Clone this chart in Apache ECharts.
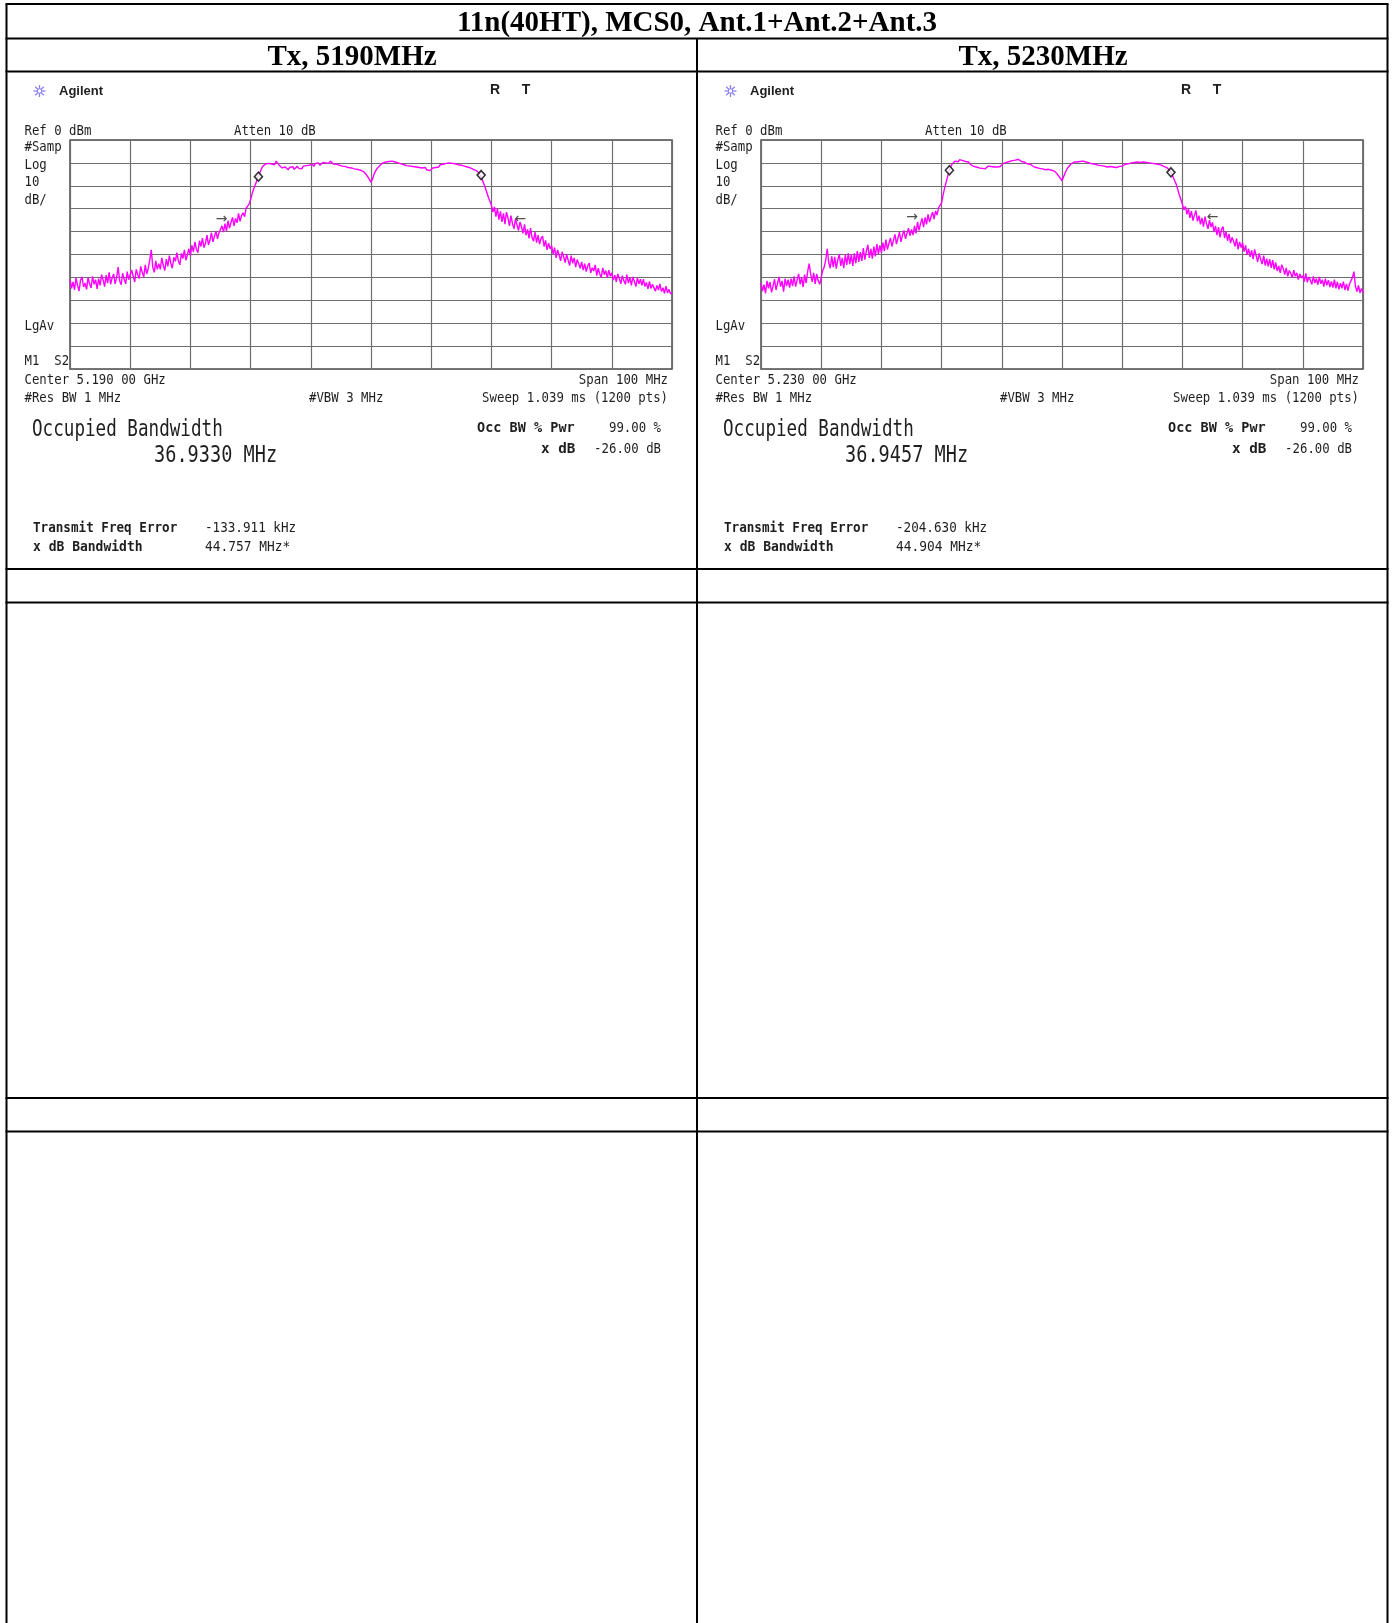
<!DOCTYPE html>
<html>
<head>
<meta charset="utf-8">
<script src="https://cdn.jsdelivr.net/npm/echarts@6/dist/echarts.min.js"></script>
<style>
  html, body { margin: 0; padding: 0; background: #ffffff; }
  #chart { width: 1394px; height: 1623px; }
</style>
</head>
<body>
<div id="chart"></div>
<script>
// ---- Report header ----
const reportTitle = '11n(40HT), MCS0, Ant.1+Ant.2+Ant.3';
const panelTitles = ['Tx, 5190MHz', 'Tx, 5230MHz'];

// ---- Analyzer readouts per channel ----
const centerFreqLabels = ['Center 5.190 00 GHz', 'Center 5.230 00 GHz'];
const occupiedBwLabels = ['36.9330 MHz', '36.9457 MHz'];
const freqErrorLabels = ['-133.911 kHz', '-204.630 kHz'];
const xdbBwLabels = ['44.757 MHz*', '44.904 MHz*'];

// ---- Axis ticks: offset from center (MHz) and level (dBm) ----
const freqTicksMHz = [-50, -40, -30, -20, -10, 0, 10, 20, 30, 40, 50];
const levelTicksDbm = [-100, -90, -80, -70, -60, -50, -40, -30, -20, -10, 0];

// Trace samples, every 0.25 MHz from -50 MHz to +50 MHz (dBm); one row = 5 MHz
const sweepStartMHz = -50;
const sweepStepMHz = 0.25;

const trace5190 = [
  -61.0, -64.8, -62.0, -65.5, -60.2, -63.5, -66.0, -61.2, -59.8, -64.2, -62.5, -65.2, -60.0, -62.8, -64.6, -59.5, -63.0, -61.0, -65.0, -60.5,
  -63.5, -58.8, -61.2, -64.0, -59.0, -62.5, -57.8, -63.0, -60.2, -58.5, -62.8, -60.0, -55.5, -61.5, -63.2, -58.2, -60.8, -62.8, -57.5, -61.0,
  -61.0, -56.8, -59.5, -62.0, -56.5, -58.8, -60.5, -55.2, -57.8, -59.8, -54.5, -58.5, -56.0, -52.5, -48.0, -55.5, -57.8, -52.8, -56.5, -54.0,
  -56.5, -51.5, -54.8, -57.0, -52.0, -55.2, -50.5, -53.8, -56.0, -51.2, -53.0, -49.2, -52.8, -54.5, -49.5, -51.8, -48.0, -52.5, -50.2, -47.5,
  -50.5, -46.0, -48.8, -44.5, -47.8, -49.2, -44.0, -46.5, -42.8, -47.0, -45.2, -41.5, -45.8, -43.8, -40.5, -44.5, -42.0, -39.8, -43.2, -40.5,
  -41.0, -37.5, -40.2, -36.5, -39.8, -35.2, -38.5, -36.0, -33.8, -37.5, -34.2, -36.2, -32.0, -35.5, -33.0, -31.8, -33.5, -29.8, -30.5, -28.0,
  -26.0, -23.5, -21.5, -19.8, -18.0, -16.2, -14.5, -13.0, -11.5, -10.8, -10.5, -9.8, -10.2, -9.5, -10.5, -11.2, -10.8, -9.2, -10.0, -11.0,
  -11.5, -12.2, -12.8, -11.8, -12.5, -13.0, -12.0, -12.6, -11.6, -12.8, -12.2, -11.5, -12.4, -11.8, -12.6, -11.4, -12.0, -11.2, -11.8, -11.0,
  -11.2, -10.5, -11.5, -10.2, -10.8, -10.0, -11.0, -10.4, -9.8, -10.6, -10.0, -9.4, -10.2, -9.2, -10.0, -10.5, -9.8, -10.6, -10.2, -11.0,
  -10.6, -11.4, -10.8, -11.6, -11.0, -12.0, -11.4, -12.2, -11.8, -12.6, -12.0, -12.8, -12.4, -13.2, -13.0, -13.8, -14.5, -15.2, -16.0, -17.2,
  -18.5, -17.0, -15.0, -13.6, -12.5, -11.8, -11.0, -10.6, -10.0, -10.4, -9.6, -10.2, -9.4, -9.8, -9.2, -10.0, -9.6, -10.4, -10.0, -10.8,
  -10.4, -11.2, -10.8, -11.6, -11.2, -12.0, -11.4, -12.2, -11.6, -12.4, -11.8, -12.6, -12.0, -12.8, -12.2, -12.6, -12.0, -13.0, -12.6, -13.4,
  -13.0, -12.2, -11.6, -12.0, -11.2, -11.8, -10.8, -11.4, -10.6, -11.2, -10.2, -10.8, -10.0, -10.6, -10.2, -11.0, -10.4, -11.2, -10.8, -11.4,
  -11.0, -11.8, -11.4, -12.2, -11.8, -12.6, -12.2, -13.0, -12.8, -13.6, -13.4, -14.2, -14.5, -16.0, -17.5, -19.2, -21.0, -23.0, -25.0, -26.8,
  -28.5, -31.5, -29.2, -33.5, -30.0, -34.8, -31.2, -35.8, -32.0, -36.8, -31.5, -34.0, -37.5, -33.0, -36.5, -38.8, -34.5, -37.0, -39.5, -35.8,
  -38.0, -40.8, -36.8, -41.5, -39.0, -43.0, -38.5, -42.5, -44.2, -40.2, -44.8, -41.5, -45.5, -43.0, -42.0, -46.5, -43.8, -48.0, -45.0, -47.5,
  -46.2, -49.8, -47.0, -51.5, -48.0, -50.2, -52.8, -48.8, -51.0, -53.5, -49.8, -52.5, -54.8, -50.5, -53.8, -51.5, -55.5, -52.2, -54.0, -56.0,
  -53.2, -56.8, -54.0, -57.5, -55.0, -53.8, -58.0, -55.8, -57.2, -54.5, -59.2, -56.0, -58.5, -60.0, -55.8, -58.8, -57.0, -60.2, -56.8, -59.5,
  -58.0, -61.2, -59.0, -62.0, -58.5, -60.5, -62.8, -59.2, -61.5, -63.0, -58.8, -62.5, -60.0, -63.5, -59.8, -61.8, -64.0, -60.2, -62.8, -60.8,
  -63.5, -60.8, -64.0, -62.2, -65.0, -61.8, -64.8, -63.0, -62.2, -66.0, -63.5, -65.5, -62.8, -66.2, -64.5, -67.0, -63.8, -66.8, -65.2, -67.2,
  -66.8
];

const trace5230 = [
  -62.5, -66.0, -63.2, -67.0, -61.5, -64.8, -62.0, -66.5, -63.8, -60.8, -65.5, -62.5, -59.8, -64.0, -61.5, -66.2, -60.5, -63.8, -61.0, -64.5,
  -60.5, -63.8, -59.5, -64.0, -61.2, -58.5, -63.0, -60.0, -64.2, -58.8, -62.5, -57.5, -54.0, -58.5, -62.0, -58.0, -62.8, -58.5, -61.5, -63.0,
  -60.0, -57.0, -55.5, -52.5, -47.5, -53.5, -56.0, -50.8, -55.5, -51.0, -56.2, -52.5, -49.8, -55.0, -51.5, -56.0, -50.2, -54.5, -49.5, -54.2,
  -50.0, -55.0, -49.5, -53.8, -48.5, -53.2, -49.0, -52.8, -47.2, -52.2, -48.5, -45.8, -51.5, -47.5, -51.8, -46.5, -50.8, -45.5, -49.8, -46.0,
  -49.2, -44.8, -48.5, -43.5, -47.8, -45.2, -42.8, -46.5, -43.8, -41.2, -45.5, -42.8, -40.2, -44.5, -41.5, -39.5, -43.2, -40.8, -38.5, -41.8,
  -39.0, -41.5, -37.5, -40.8, -35.8, -39.5, -36.5, -34.2, -38.0, -33.8, -36.8, -32.5, -35.8, -33.5, -31.5, -34.5, -31.0, -32.8, -29.5, -28.8,
  -27.5, -24.0, -21.0, -18.5, -16.0, -13.5, -11.8, -10.5, -9.8, -9.2, -8.8, -9.5, -8.6, -9.2, -9.0, -9.8, -9.4, -10.2, -9.6, -10.6,
  -10.8, -11.4, -11.0, -11.8, -11.2, -12.2, -11.6, -12.4, -11.8, -12.6, -12.0, -11.4, -12.2, -11.6, -12.4, -11.8, -11.2, -11.8, -11.0, -11.6,
  -10.8, -10.2, -10.6, -9.8, -10.2, -9.4, -9.8, -9.0, -9.4, -8.8, -9.2, -8.4, -8.8, -9.4, -9.0, -9.6, -9.8, -10.4, -10.0, -10.6,
  -11.0, -11.6, -11.2, -12.0, -11.6, -12.4, -11.8, -12.6, -12.2, -13.0, -12.4, -12.8, -12.2, -13.2, -12.8, -13.6, -14.2, -15.0, -15.8, -16.8,
  -17.8, -16.2, -14.5, -13.0, -12.0, -11.2, -10.5, -10.0, -9.6, -9.2, -9.6, -9.0, -9.4, -9.8, -9.2, -10.0, -9.6, -10.4, -10.0, -10.6,
  -10.4, -11.0, -10.6, -11.4, -11.0, -11.6, -11.2, -12.0, -11.4, -12.2, -11.8, -12.4, -11.6, -12.2, -11.8, -12.6, -12.0, -12.4, -11.6, -12.0,
  -11.4, -11.0, -10.6, -11.2, -10.4, -10.8, -10.0, -10.6, -9.8, -10.4, -9.6, -10.2, -9.8, -10.4, -9.6, -10.2, -9.8, -10.4, -10.0, -10.6,
  -10.2, -10.8, -10.4, -11.0, -10.6, -11.4, -11.0, -11.8, -11.6, -12.4, -12.2, -13.0, -13.6, -15.0, -16.5, -18.0, -19.5, -21.8, -24.0, -26.0,
  -28.0, -30.5, -29.0, -32.5, -30.0, -34.0, -31.0, -35.2, -32.8, -30.8, -35.5, -33.0, -36.8, -34.0, -37.8, -33.5, -36.5, -38.8, -35.0, -38.0,
  -36.0, -40.2, -37.5, -41.5, -38.0, -42.5, -39.0, -37.8, -42.8, -40.0, -44.0, -41.0, -45.0, -42.5, -44.2, -46.5, -43.0, -47.8, -44.5, -47.0,
  -44.8, -48.8, -46.0, -50.2, -47.5, -51.0, -48.2, -52.0, -47.8, -50.5, -53.2, -49.5, -52.2, -54.2, -50.5, -54.8, -51.8, -55.2, -52.0, -55.8,
  -52.5, -56.5, -53.5, -57.2, -55.0, -58.0, -54.5, -56.2, -58.8, -55.8, -59.5, -57.0, -58.2, -60.2, -56.8, -59.5, -58.0, -61.0, -58.5, -60.2,
  -59.2, -61.8, -58.2, -62.2, -59.8, -61.2, -63.0, -59.5, -62.5, -60.5, -63.2, -59.8, -62.8, -61.0, -64.0, -60.5, -63.5, -61.2, -64.2, -61.8,
  -64.5, -61.0, -64.8, -62.0, -65.2, -62.5, -64.8, -61.8, -65.5, -62.8, -65.8, -63.0, -62.5, -60.0, -57.5, -64.0, -66.2, -63.5, -66.8, -64.8,
  -66.8
];

// Occupied-bandwidth edge markers [MHz, dBm]
const obwMarkers5190 = [[-18.7, -16.0], [18.3, -15.3]];
const obwMarkers5230 = [[-18.7, -13.2], [18.1, -14.1]];
// x dB bandwidth arrows [MHz, dBm, glyph]
const xdbArrows5190 = [[-24.8, -34.5, '\u2192'], [24.8, -34.5, '\u2190']];
const xdbArrows5230 = [[-24.9, -33.8, '\u2192'], [25.0, -33.8, '\u2190']];

const traces = [trace5190, trace5230];
const obwMarkers = [obwMarkers5190, obwMarkers5230];
const xdbArrows = [xdbArrows5190, xdbArrows5230];

// ---- Layout ----
const plotLeft = [70, 761];
const plotTop = 140;
const plotWidth = 602;
const plotHeight = 229;
const panelShift = 691;
const MONO = '"DejaVu Sans Mono", "Liberation Mono", monospace';
const INK = '#1e1e1e';

function toPairs(trace) {
  return trace.map((v, i) => [sweepStartMHz + i * sweepStepMHz, v]);
}

function monoText(x, y, text, o) {
  o = o || {};
  return {
    type: 'text', x: x, y: y,
    scaleX: o.sx || 0.95, scaleY: o.sy || 1.08,
    silent: true,
    style: {
      text: text, x: 0, y: 0, fill: o.color || INK,
      font: (o.bold ? 'bold ' : '') + (o.size || 13) + 'px ' + (o.family || MONO),
      textAlign: o.align || 'left', textVerticalAlign: 'middle'
    }
  };
}

function rule(x1, y1, x2, y2) {
  return { type: 'line', silent: true, shape: { x1: x1, y1: y1, x2: x2, y2: y2 },
    style: { stroke: '#000', lineWidth: 2 } };
}

const graphics = [];
// Report table frame
const tableTop = 4, tableLeft = 6.5, tableRight = 1387.5, tableBottom = 1623, midX = 697;
[tableTop, 38.5, 71.5, 569, 602.5, 1098, 1131.5].forEach(y => graphics.push(rule(tableLeft - 1, y, tableRight + 1, y)));
graphics.push(rule(tableLeft, tableTop, tableLeft, tableBottom));
graphics.push(rule(tableRight, tableTop, tableRight, tableBottom));
graphics.push(rule(midX, 38.5, midX, tableBottom));

const SERIF = 'bold 29px "Liberation Serif", "Times New Roman", serif';
graphics.push({ type: 'text', silent: true, style: { text: reportTitle, x: 697, y: 24, font: SERIF, fill: '#000', textAlign: 'center', textVerticalAlign: 'middle' } });
graphics.push({ type: 'text', silent: true, style: { text: panelTitles[0], x: 352, y: 57.5, font: SERIF, fill: '#000', textAlign: 'center', textVerticalAlign: 'middle' } });
graphics.push({ type: 'text', silent: true, style: { text: panelTitles[1], x: 1043, y: 57.5, font: SERIF, fill: '#000', textAlign: 'center', textVerticalAlign: 'middle' } });

// Analyzer screen annotations for each channel
for (let p = 0; p < 2; p++) {
  const d = p * panelShift;
  // Agilent spark logo
  const cx = 39.5 + d, cy = 91;
  for (let k = 0; k < 4; k++) {
    const a = k * Math.PI / 4;
    graphics.push({ type: 'line', silent: true,
      shape: { x1: cx - 6 * Math.cos(a), y1: cy - 6 * Math.sin(a), x2: cx + 6 * Math.cos(a), y2: cy + 6 * Math.sin(a) },
      style: { stroke: '#8a7ff2', lineWidth: 1.3 } });
  }
  graphics.push({ type: 'circle', silent: true, shape: { cx: cx, cy: cy, r: 2.2 }, style: { fill: '#fff', stroke: '#8a7ff2', lineWidth: 1 } });
  graphics.push(monoText(59 + d, 91, 'Agilent', { bold: true, sx: 1, sy: 1, family: '"Liberation Sans", Arial, sans-serif' }));
  graphics.push(monoText(495 + d, 90, 'R', { bold: true, sx: 1, sy: 1, size: 14, align: 'center', family: '"Liberation Sans", Arial, sans-serif' }));
  graphics.push(monoText(526 + d, 90, 'T', { bold: true, sx: 1, sy: 1, size: 14, align: 'center', family: '"Liberation Sans", Arial, sans-serif' }));

  graphics.push(monoText(24.5 + d, 131, 'Ref 0 dBm'));
  graphics.push(monoText(234 + d, 131, 'Atten 10 dB'));
  graphics.push(monoText(24.5 + d, 147, '#Samp'));
  graphics.push(monoText(24.5 + d, 165, 'Log'));
  graphics.push(monoText(24.5 + d, 182, '10'));
  graphics.push(monoText(24.5 + d, 200, 'dB/'));
  graphics.push(monoText(24.5 + d, 326, 'LgAv'));
  graphics.push(monoText(24.5 + d, 361.5, 'M1  S2'));
  graphics.push(monoText(24.5 + d, 380, centerFreqLabels[p]));
  graphics.push(monoText(668 + d, 380, 'Span 100 MHz', { align: 'right' }));
  graphics.push(monoText(24.5 + d, 398.5, '#Res BW 1 MHz'));
  graphics.push(monoText(309 + d, 398.5, '#VBW 3 MHz'));
  graphics.push(monoText(668 + d, 398.5, 'Sweep 1.039 ms (1200 pts)', { align: 'right' }));

  graphics.push(monoText(32 + d, 430, 'Occupied Bandwidth', { size: 22, sx: 0.80 }));
  graphics.push(monoText(154 + d, 456, occupiedBwLabels[p], { size: 22, sx: 0.845 }));

  graphics.push(monoText(477 + d, 428.5, 'Occ BW % Pwr', { bold: true, sx: 1.04 }));
  graphics.push(monoText(661 + d, 428.5, '99.00 %', { align: 'right' }));
  graphics.push(monoText(541 + d, 449, 'x dB', { bold: true, sx: 1.1 }));
  graphics.push(monoText(661 + d, 449, '-26.00 dB', { align: 'right' }));

  graphics.push(monoText(33 + d, 528.5, 'Transmit Freq Error', { bold: true, sx: 0.97 }));
  graphics.push(monoText(205 + d, 528.5, freqErrorLabels[p], { sx: 0.97 }));
  graphics.push(monoText(33 + d, 547, 'x dB Bandwidth', { bold: true, sx: 1.0 }));
  graphics.push(monoText(205 + d, 547, xdbBwLabels[p], { sx: 0.99 }));
}

const grids = [], xAxes = [], yAxes = [], series = [];
for (let p = 0; p < 2; p++) {
  grids.push({ left: plotLeft[p], top: plotTop, width: plotWidth, height: plotHeight,
    show: true, borderColor: '#4a4a4a', borderWidth: 1.5, backgroundColor: '#ffffff' });
  xAxes.push({ gridIndex: p, type: 'value',
    min: freqTicksMHz[0], max: freqTicksMHz[freqTicksMHz.length - 1], interval: freqTicksMHz[1] - freqTicksMHz[0],
    axisLine: { show: false }, axisTick: { show: false }, axisLabel: { show: false },
    splitLine: { show: true, lineStyle: { color: '#6e6e6e', width: 1.2 } } });
  yAxes.push({ gridIndex: p, type: 'value',
    min: levelTicksDbm[0], max: levelTicksDbm[levelTicksDbm.length - 1], interval: levelTicksDbm[1] - levelTicksDbm[0],
    axisLine: { show: false }, axisTick: { show: false }, axisLabel: { show: false },
    splitLine: { show: true, lineStyle: { color: '#6e6e6e', width: 1.2 } } });
  series.push({ type: 'line', xAxisIndex: p, yAxisIndex: p, data: toPairs(traces[p]),
    symbol: 'none', lineStyle: { color: '#ff00ff', width: 1.4 }, animation: false, z: 3 });
  series.push({ type: 'scatter', xAxisIndex: p, yAxisIndex: p, data: obwMarkers[p],
    symbol: 'diamond', symbolSize: [8, 9],
    itemStyle: { color: '#ffffff', borderColor: '#000000', borderWidth: 1.6 }, animation: false, z: 5 });
  series.push({ type: 'scatter', xAxisIndex: p, yAxisIndex: p, data: xdbArrows[p],
    symbolSize: 1, itemStyle: { color: 'rgba(0,0,0,0)' },
    label: { show: true, position: 'inside', formatter: q => q.data[2],
      color: '#222', fontSize: 14, fontFamily: '"DejaVu Sans", sans-serif' },
    animation: false, z: 5 });
}

const chart = echarts.init(document.getElementById('chart'), null, { renderer: 'canvas' });
chart.setOption({
  backgroundColor: '#ffffff',
  animation: false,
  grid: grids,
  xAxis: xAxes,
  yAxis: yAxes,
  series: series,
  graphic: graphics
});
</script>
</body>
</html>
